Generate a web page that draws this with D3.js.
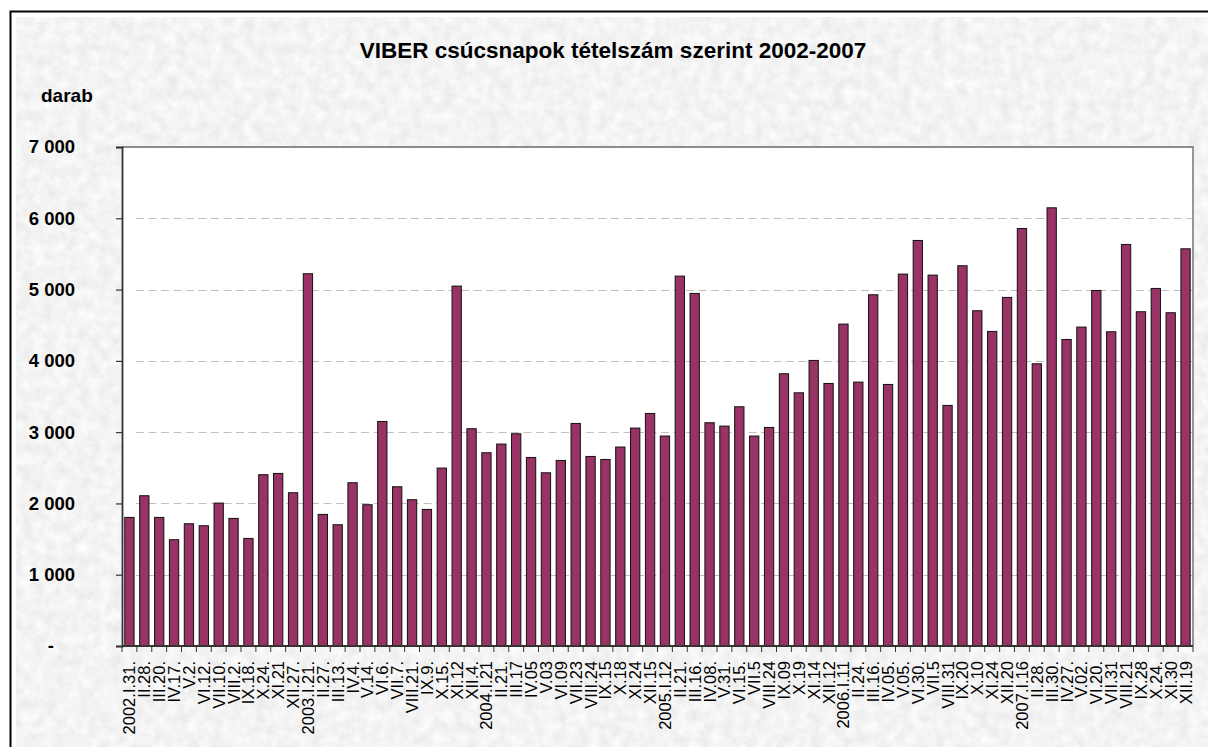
<!DOCTYPE html>
<html>
<head>
<meta charset="utf-8">
<script src="https://cdn.jsdelivr.net/npm/d3@7"></script>
<style>
  html, body { margin: 0; padding: 0; background: #fff; }
  svg { display: block; }
  text { font-family: Arial, "Liberation Sans", sans-serif; }
</style>
</head>
<body>
<svg id="chart" width="1208" height="747"></svg>
<script>
const categories = [
  "2002.I.31.","II.28.","III.20.","IV.17.","V.2.","VI.12.","VII.10.","VIII.2.","IX.18.","X.24.","XI.21","XII.27.",
  "2003.I.21.","II.27. ","III.13.","IV.4.","V.14.","VI.6.","VII.7.","VIII.21.","IX.9.","X.15.","XI.12","XII.4.",
  "2004.I.21","II.21.","III.17","IV.05","V.03","VI.09","VII.23","VIII.24","IX.15","X.18","XI.24","XII.15",
  "2005.I.12","II.21. ","III.16.","IV.08.","V.31.","VI.15.","VII.5","VIII.24 ","IX.09","X.19","XI.14","XII.12",
  "2006.I.11","II.24.","III.16. ","IV.05.","V.05.","VI.30.","VII.5 ","VIII.31","IX.20","X.10","XI.24 ","XII.20",
  "2007.I.16","II.28. ","III.30.","IV.27.","V.02.","VI.20.","VII.31","VIII.21","IX.28","X.24. ","XI.30","XII.19"
];
const values = [
  1804, 2108, 1804, 1491, 1715, 1687, 2005, 1790, 1509, 2403, 2421, 2150,
  5222, 1846, 1701, 2290, 1982, 3150, 2234, 2052, 1916, 2496, 5049, 3048,
  2711, 2833, 2977, 2645, 2430, 2603, 3122, 2659, 2617, 2791, 3057, 3262,
  2945, 5189, 4946, 3132, 3085, 3356, 2945, 3066, 3819, 3552, 4006, 3683,
  4516, 3702, 4927, 3669, 5217, 5689, 5203, 3375, 5334, 4703, 4413, 4890,
  5857, 3959, 6147, 4300, 4474, 4988, 4408, 5633, 4689, 5016, 4675, 5572
];
const yTicks = [0, 1000, 2000, 3000, 4000, 5000, 6000, 7000];
const yTickLabels = ["-", "1 000", "2 000", "3 000", "4 000", "5 000", "6 000", "7 000"];
const titleText = "VIBER csúcsnapok tételszám szerint 2002-2007";
const unitText = "darab";

const svg = d3.select("#chart");
const W = 1208, H = 747;
const plot = { left: 122, top: 147, right: 1193, bottom: 646 };

// background texture
const defs = svg.append("defs");
const f = defs.append("filter").attr("id", "tex")
  .attr("x", 0).attr("y", 0).attr("width", 1).attr("height", 1)
  .attr("filterUnits", "objectBoundingBox");
f.append("feTurbulence").attr("type", "fractalNoise")
  .attr("baseFrequency", "0.09").attr("numOctaves", 4).attr("seed", 3).attr("result", "n");
f.append("feColorMatrix").attr("type", "matrix")
  .attr("values", "0.22 0 0 0 0.79  0.22 0 0 0 0.79  0.22 0 0 0 0.79  0 0 0 0 1");

svg.append("rect").attr("x", 0).attr("y", 0).attr("width", W).attr("height", H).attr("fill", "#fff");
svg.append("rect").attr("x", 16).attr("y", 17).attr("width", W - 16).attr("height", H - 17)
  .attr("fill", "#e4e4e4").attr("filter", "url(#tex)");
svg.append("rect").attr("x", 10.5).attr("y", 11.5).attr("width", W + 10).attr("height", H + 10)
  .attr("fill", "none").attr("stroke", "#000").attr("stroke-width", 2);

// scales
const x = d3.scaleBand().domain(categories).range([plot.left, plot.right])
  .paddingInner(0.375).paddingOuter(0.1875);
const y = d3.scaleLinear().domain([0, 7000]).range([plot.bottom, plot.top]);

// plot area
svg.append("rect").attr("x", plot.left).attr("y", plot.top)
  .attr("width", plot.right - plot.left).attr("height", plot.bottom - plot.top)
  .attr("fill", "#fff");

// gridlines
svg.append("g").selectAll("line").data(yTicks.filter(v => v > 0 && v < 7000)).join("line")
  .attr("x1", plot.left + 14).attr("x2", plot.right)
  .attr("y1", d => Math.round(y(d)) + 0.5).attr("y2", d => Math.round(y(d)) + 0.5)
  .attr("stroke", "#c0c0c0").attr("stroke-width", 1).attr("stroke-dasharray", "8,4.5");

// frame top/right
svg.append("path")
  .attr("d", `M${plot.left},${plot.top}H${plot.right}V${plot.bottom}`)
  .attr("fill", "none").attr("stroke", "#8c8c8c").attr("stroke-width", 1.8);

// bars
svg.append("g").selectAll("rect").data(values).join("rect")
  .attr("x", (d, i) => x(categories[i]))
  .attr("y", d => y(d))
  .attr("width", x.bandwidth())
  .attr("height", d => y(0) - y(d))
  .attr("fill", "#993366")
  .attr("stroke", "#111").attr("stroke-width", 1);

// y axis
const yAxis = svg.append("g").attr("transform", `translate(${plot.left},0)`)
  .call(d3.axisLeft(y).tickValues(yTicks).tickSize(6).tickPadding(41)
    .tickFormat((d, i) => yTickLabels[i]));
yAxis.select(".domain").attr("stroke", "#333").attr("stroke-width", 1.8);
yAxis.selectAll(".tick line").attr("stroke", "#333").attr("stroke-width", 1.2);
yAxis.selectAll(".tick text")
  .attr("font-size", 18.5).attr("font-weight", "bold").attr("fill", "#000")
  .attr("font-family", "Arial, 'Liberation Sans', sans-serif")
  .attr("dx", (d, i) => i === 0 ? -21 : 0);

// x axis line
svg.append("line").attr("x1", plot.left).attr("x2", plot.right)
  .attr("y1", plot.bottom).attr("y2", plot.bottom)
  .attr("stroke", "#333").attr("stroke-width", 1.8);
// x ticks at band boundaries
const step = x.step();
const gapHalf = (step - x.bandwidth()) / 2;
const boundaries = categories.map(c => x(c) - gapHalf).concat([x(categories[categories.length - 1]) + x.bandwidth() + gapHalf]);
svg.append("g").selectAll("line").data(boundaries).join("line")
  .attr("x1", d => d).attr("x2", d => d)
  .attr("y1", plot.bottom).attr("y2", plot.bottom + 6)
  .attr("stroke", "#333").attr("stroke-width", 1);

// x labels
svg.append("g").selectAll("text").data(categories).join("text")
  .attr("transform", c => `translate(${x(c) + x.bandwidth() / 2},661) rotate(-90)`)
  .attr("text-anchor", "end").attr("dy", "0.36em")
  .attr("font-size", 16.5).attr("fill", "#000")
  .text(c => c.trim());

// title & unit
svg.append("text").attr("x", 613).attr("y", 58).attr("text-anchor", "middle")
  .attr("font-size", 22.5).attr("font-weight", "bold").attr("fill", "#000").text(titleText);
svg.append("text").attr("x", 41).attr("y", 102)
  .attr("font-size", 19).attr("font-weight", "bold").attr("fill", "#000").text(unitText);
</script>
</body>
</html>
